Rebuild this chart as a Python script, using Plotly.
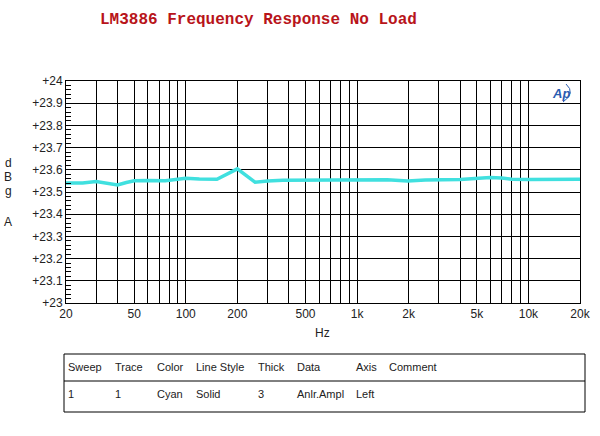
import math
import plotly.graph_objects as go

# ---- data ----
freq_hz = [20, 25, 30, 35, 40, 45, 50, 60, 76, 100, 120, 152, 200, 254, 300, 369,
           500, 664, 1000, 1500, 1973, 2500, 4000, 5970, 6980, 8000, 10000, 15000, 20000]
level_dbga = [23.540, 23.541, 23.547, 23.538, 23.532, 23.543, 23.551, 23.552, 23.551, 23.562,
              23.558, 23.557, 23.604, 23.544, 23.550, 23.553, 23.554, 23.555, 23.556, 23.555,
              23.550, 23.554, 23.556, 23.565, 23.563, 23.557, 23.556, 23.557, 23.557]

x_grid = [20, 30, 40, 50, 60, 70, 80, 90, 100, 200, 300, 400, 500, 600, 700, 800, 900,
          1000, 2000, 3000, 4000, 5000, 6000, 7000, 8000, 9000, 10000, 20000]
x_labels = {20: "20", 50: "50", 100: "100", 200: "200", 500: "500", 1000: "1k",
            2000: "2k", 5000: "5k", 10000: "10k", 20000: "20k"}
y_ticks = [23 + i / 10 for i in range(11)]
y_labels = ["+23", "+23.1", "+23.2", "+23.3", "+23.4", "+23.5", "+23.6", "+23.7",
            "+23.8", "+23.9", "+24"]

table_headers = ["Sweep", "Trace", "Color", "Line Style", "Thick", "Data", "Axis", "Comment"]
table_row = ["1", "1", "Cyan", "Solid", "3", "Anlr.Ampl", "Left", ""]
table_col_px = [66, 113, 155, 194, 256, 295, 354, 387]

# ---- layout geometry (pixels) ----
W, H = 600, 436
L, R, T, B = 66, 580, 81, 303


def px_x(p):
    return (p - L) / (R - L)


def px_y(p):
    return (B - p) / (B - T)


fig = go.Figure()
fig.add_trace(go.Scatter(x=freq_hz, y=level_dbga, mode="lines",
                         line=dict(color="#40E0DF", width=3.5), hoverinfo="skip"))

font_ax = dict(family="Liberation Sans, Arial, sans-serif", size=12, color="#222222")

fig.update_layout(
    width=W, height=H,
    margin=dict(l=L, r=W - R, t=T, b=H - B, autoexpand=False),
    paper_bgcolor="white", plot_bgcolor="white",
    showlegend=False,
    font=font_ax,
    xaxis=dict(type="log", range=[math.log10(20), math.log10(20000)],
               tickvals=x_grid, ticktext=[x_labels.get(v, "") for v in x_grid],
               showgrid=True, gridcolor="black", gridwidth=1,
               showline=True, linecolor="black", linewidth=1, mirror=True,
               ticks="", zeroline=False, tickfont=font_ax, automargin=False),
    yaxis=dict(range=[23, 24], tickvals=y_ticks, ticktext=y_labels,
               showgrid=True, gridcolor="black", gridwidth=1,
               showline=True, linecolor="black", linewidth=1, mirror=True,
               ticks="inside", ticklen=6, tickcolor="black",
               minor=dict(ticks="inside", dtick=0.02, ticklen=5, tickcolor="black",
                          showgrid=False),
               zeroline=False, tickfont=font_ax, automargin=False),
)

ann = []


def add_text(txt, px, py, font, xanchor="center"):
    ann.append(dict(x=px_x(px), y=px_y(py), xref="paper", yref="paper", text=txt,
                    showarrow=False, xanchor=xanchor, yanchor="middle", font=font))


# title
add_text("<b>LM3886 Frequency Response No Load</b>", 258, 20,
         dict(family="Liberation Mono, Courier New, monospace", size=16, color="#B8141A"))
# y-axis letters
for letter, py in [("d", 163), ("B", 177), ("g", 191), ("A", 222)]:
    add_text(letter, 8, py, font_ax)
# x title
add_text("Hz", 322, 333, font_ax)
# AP logo
add_text("<i><b>Ap</b></i>", 561, 93,
         dict(family="Liberation Sans, Arial", size=13, color="#2A5CB0"))

# table text
small = dict(family="Liberation Sans, Arial, sans-serif", size=11, color="#222222")
for txt, px in zip(table_headers, table_col_px):
    add_text(txt, px, 367, small, xanchor="left")
for txt, px in zip(table_row, table_col_px):
    if txt:
        add_text(txt, px, 394, small, xanchor="left")
fig.update_layout(annotations=ann)

shapes = [
    dict(type="rect", xref="paper", yref="paper", x0=px_x(64), x1=px_x(585),
         y0=px_y(412), y1=px_y(354), line=dict(color="black", width=1)),
    dict(type="line", xref="paper", yref="paper", x0=px_x(64), x1=px_x(585),
         y0=px_y(381), y1=px_y(381), line=dict(color="black", width=1)),
    dict(type="path", xref="paper", yref="paper",
         path=f"M {px_x(566)},{px_y(84)} Q {px_x(576)},{px_y(93)} {px_x(563)},{px_y(102)}",
         line=dict(color="#2A5CB0", width=1)),
]
fig.update_layout(shapes=shapes)

fig.write_html("out.html", config={"displayModeBar": False},
               post_script="document.body.style.margin='0';document.body.style.padding='0';")
